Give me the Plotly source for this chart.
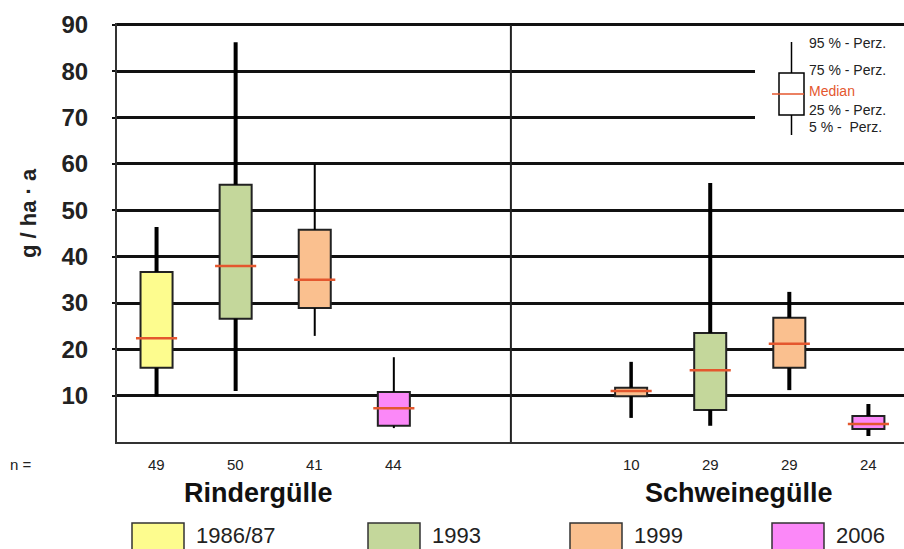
import plotly.graph_objects as go

# ---------------- data ----------------
group_names = ["Rindergülle", "Schweinegülle"]
legend_years = ["1986/87", "1993", "1999", "2006"]
legend_colors = ["#fdfc8e", "#c4d79b", "#fac08f", "#fb88f8"]

box_group = [0, 0, 0, 0, 1, 1, 1, 1]
box_color_idx = [0, 1, 2, 3, 2, 1, 2, 3]
n_count = [49, 50, 41, 44, 10, 29, 29, 24]
p95 = [46.4, 86.3, 60.0, 18.3, 17.3, 55.9, 32.4, 8.2]
p75 = [36.7, 55.5, 45.8, 10.8, 11.7, 23.5, 26.8, 5.6]
median = [22.4, 38.0, 35.0, 7.3, 11.0, 15.5, 21.2, 3.9]
p25 = [16.0, 26.6, 28.9, 3.5, 9.9, 6.9, 16.0, 2.8]
p05 = [9.9, 11.0, 22.9, 3.0, 5.2, 3.5, 11.2, 1.3]
y_ticks = [10, 20, 30, 40, 50, 60, 70, 80, 90]

# ---------------- style ----------------
whisker_w = [4, 4, 2, 2, 3.5, 4, 4, 4]
W, H = 904, 549
L, T, B = 117, 23, 107
PW, PH = W - L, H - T - B
FONT = "Liberation Sans, Arial, sans-serif"
MED_COLOR = "#e4572e"


def px(x):
    return (x - L) / PW


def py(y):
    return (H - B - y) / PH


fig = go.Figure()

pos = []
for i in range(len(n_count)):
    slot = (i % 4) + box_group[i] * 6 + 0.5
    pos.append(slot)

for i, x in enumerate(pos):
    fig.add_trace(go.Scatter(
        x=[x, x, None, x, x], y=[p05[i], p25[i], None, p75[i], p95[i]],
        mode="lines", line=dict(color="#000", width=whisker_w[i]),
        showlegend=False, hoverinfo="skip"))
    fig.add_trace(go.Bar(
        x=[x], y=[p75[i] - p25[i]], base=[p25[i]], width=0.405,
        marker=dict(color=legend_colors[box_color_idx[i]],
                    line=dict(color="#222", width=2)),
        showlegend=False, hoverinfo="skip"))
    fig.add_trace(go.Scatter(
        x=[x - 0.26, x + 0.26], y=[median[i], median[i]],
        mode="lines", line=dict(color=MED_COLOR, width=2.5),
        showlegend=False, hoverinfo="skip"))

shapes = []
ann = []

# divider between groups
shapes.append(dict(type="line", xref="x", yref="y", x0=4.98, x1=4.98,
                   y0=0, y1=y_ticks[-1], line=dict(color="#222", width=2)))

# inset key (covers grid lines)
shapes.append(dict(type="rect", xref="paper", yref="paper", layer="above",
                   x0=px(755), x1=px(910), y0=py(142), y1=py(33),
                   fillcolor="white", line=dict(width=0)))
shapes.append(dict(type="line", xref="paper", yref="paper", layer="above",
                   x0=px(791.5), x1=px(791.5), y0=py(135), y1=py(42),
                   line=dict(color="#000", width=1.5)))
shapes.append(dict(type="rect", xref="paper", yref="paper", layer="above",
                   x0=px(779), x1=px(804), y0=py(115), y1=py(73),
                   fillcolor="white", line=dict(color="#000", width=1.5)))
shapes.append(dict(type="line", xref="paper", yref="paper", layer="above",
                   x0=px(772), x1=px(804), y0=py(94), y1=py(94),
                   line=dict(color=MED_COLOR, width=1.5)))
key_texts = [("95 % - Perz.", 43, "#222"), ("75 % - Perz.", 70, "#222"),
             ("Median", 91, MED_COLOR), ("25 % - Perz.", 110, "#222"),
             ("5 % -  Perz.", 127, "#222")]
for t, y, c in key_texts:
    ann.append(dict(text=t, xref="paper", yref="paper", x=px(807), y=py(y),
                    xanchor="left", yanchor="middle", showarrow=False,
                    font=dict(family=FONT, size=14, color=c)))

# n labels
ann.append(dict(text="n =", xref="paper", yref="paper", x=px(8), y=py(464),
                xanchor="left", yanchor="middle", showarrow=False,
                font=dict(family=FONT, size=15, color="#222")))
for i, x in enumerate(pos):
    ann.append(dict(text=str(n_count[i]), xref="x", yref="paper", x=x, y=py(464),
                    xanchor="center", yanchor="middle", showarrow=False,
                    font=dict(family=FONT, size=15, color="#222")))

# group labels
for name, cx in zip(group_names, [258, 739]):
    ann.append(dict(text=name, xref="paper", yref="paper", x=px(cx), y=py(493),
                    xanchor="center", yanchor="middle", showarrow=False,
                    font=dict(family=FONT, size=27, color="#111", weight="bold")))

# y title
ann.append(dict(text="g / ha · a", xref="paper", yref="paper", x=px(28), y=py(213),
                xanchor="center", yanchor="middle", textangle=-90, showarrow=False,
                font=dict(family=FONT, size=22, color="#222", weight="bold")))

# bottom legend
for yr, col, sx in zip(legend_years, legend_colors, [132, 368, 570, 772]):
    shapes.append(dict(type="rect", xref="paper", yref="paper",
                       x0=px(sx), x1=px(sx + 52), y0=py(553), y1=py(523),
                       fillcolor=col, line=dict(color="#333", width=1.5)))
    ann.append(dict(text=yr, xref="paper", yref="paper", x=px(sx + 62), y=py(535),
                    xanchor="left", yanchor="middle", showarrow=False,
                    font=dict(family=FONT, size=22, color="#222")))

fig.update_layout(
    width=W, height=H, margin=dict(l=L, r=0, t=T, b=B),
    paper_bgcolor="white", plot_bgcolor="white",
    barmode="overlay", showlegend=False,
    shapes=shapes, annotations=ann,
    xaxis=dict(range=[0, 9.95], showgrid=False, zeroline=False,
               showticklabels=False, showline=True, linecolor="#333",
               linewidth=2, fixedrange=True),
    yaxis=dict(range=[0, 90.43], tickvals=y_ticks, showgrid=True,
               gridcolor="#111", gridwidth=3, zeroline=False,
               showline=True, linecolor="#333", linewidth=2,
               ticks="outside", ticklen=3, tickwidth=2, tickcolor="#111",
               ticklabelstandoff=19,
               tickfont=dict(family=FONT, size=24, color="#222", weight="bold")),
)

fig.write_html("out.html")
